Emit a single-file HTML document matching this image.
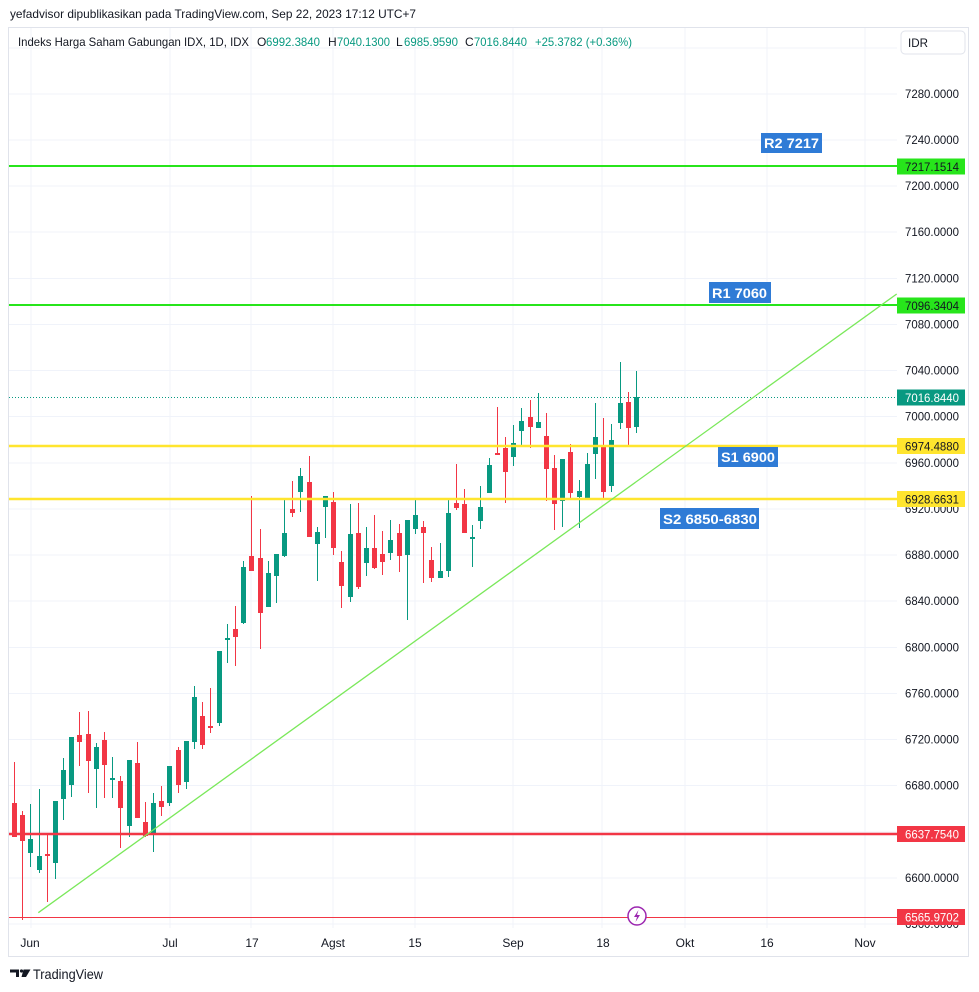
<!DOCTYPE html>
<html><head><meta charset="utf-8"><style>
html,body{margin:0;padding:0;background:#fff;}
svg{display:block;font-family:"Liberation Sans",Arial,sans-serif;}
</style></head><body>
<svg width="979" height="992" viewBox="0 0 979 992" xmlns="http://www.w3.org/2000/svg">
<defs>
<clipPath id="axisclip"><rect x="897" y="28" width="72" height="900"/></clipPath>
</defs>
<rect width="979" height="992" fill="#fff"/>
<!-- header -->
<text x="10" y="18" font-size="12" fill="#131722" textLength="406" lengthAdjust="spacingAndGlyphs">yefadvisor dipublikasikan pada TradingView.com, Sep 22, 2023 17:12 UTC+7</text>
<!-- frame -->
<rect x="8.5" y="27.5" width="960" height="929" fill="none" stroke="#e0e3eb" stroke-width="1"/>
<!-- horizontal grid -->
<g stroke="#f0f3fa" stroke-width="1">
<line x1="9" x2="897" y1="48" y2="48"/>
<line x1="9" x2="897" y1="94" y2="94"/>
<line x1="9" x2="897" y1="140" y2="140"/>
<line x1="9" x2="897" y1="186" y2="186"/>
<line x1="9" x2="897" y1="232" y2="232"/>
<line x1="9" x2="897" y1="278.5" y2="278.5"/>
<line x1="9" x2="897" y1="324.5" y2="324.5"/>
<line x1="9" x2="897" y1="370.5" y2="370.5"/>
<line x1="9" x2="897" y1="416.5" y2="416.5"/>
<line x1="9" x2="897" y1="463" y2="463"/>
<line x1="9" x2="897" y1="509" y2="509"/>
<line x1="9" x2="897" y1="555" y2="555"/>
<line x1="9" x2="897" y1="601" y2="601"/>
<line x1="9" x2="897" y1="647.5" y2="647.5"/>
<line x1="9" x2="897" y1="693.5" y2="693.5"/>
<line x1="9" x2="897" y1="739.5" y2="739.5"/>
<line x1="9" x2="897" y1="785.5" y2="785.5"/>
<line x1="9" x2="897" y1="832" y2="832"/>
<line x1="9" x2="897" y1="878" y2="878"/>
<line x1="9" x2="897" y1="924" y2="924"/>
</g>
<!-- vertical grid -->
<g stroke="#f0f3fa" stroke-width="1">
<line x1="31" x2="31" y1="28" y2="928"/>
<line x1="170" x2="170" y1="28" y2="928"/>
<line x1="251" x2="251" y1="28" y2="928"/>
<line x1="333" x2="333" y1="28" y2="928"/>
<line x1="415" x2="415" y1="28" y2="928"/>
<line x1="513" x2="513" y1="28" y2="928"/>
<line x1="602" x2="602" y1="28" y2="928"/>
<line x1="685" x2="685" y1="28" y2="928"/>
<line x1="767" x2="767" y1="28" y2="928"/>
<line x1="865" x2="865" y1="28" y2="928"/>
</g>
<!-- legend -->
<g font-size="12">
<text x="18" y="46" fill="#131722" textLength="231" lengthAdjust="spacingAndGlyphs">Indeks Harga Saham Gabungan IDX, 1D, IDX</text>
<text x="257" y="46" fill="#131722">O</text>
<text x="266" y="46" fill="#089981" textLength="54" lengthAdjust="spacingAndGlyphs">6992.3840</text>
<text x="328" y="46" fill="#131722">H</text>
<text x="337" y="46" fill="#089981" textLength="53" lengthAdjust="spacingAndGlyphs">7040.1300</text>
<text x="396" y="46" fill="#131722">L</text>
<text x="404" y="46" fill="#089981" textLength="54" lengthAdjust="spacingAndGlyphs">6985.9590</text>
<text x="465" y="46" fill="#131722">C</text>
<text x="474" y="46" fill="#089981" textLength="53" lengthAdjust="spacingAndGlyphs">7016.8440</text>
<text x="535" y="46" fill="#089981" textLength="97" lengthAdjust="spacingAndGlyphs">+25.3782 (+0.36%)</text>
</g>
<!-- IDR box -->
<rect x="901" y="31" width="64" height="23" rx="4" ry="4" fill="#fff" stroke="#e0e3eb"/>
<text x="908" y="47" font-size="12" fill="#131722" textLength="20" lengthAdjust="spacingAndGlyphs">IDR</text>

<!-- candles green -->
<g fill="#089981">
<rect x="30" y="804" width="1" height="63"/><rect x="28" y="839" width="5" height="14"/>
<rect x="39" y="789" width="1" height="84"/><rect x="37" y="856" width="5" height="14"/>
<rect x="55" y="801" width="1" height="78"/><rect x="53" y="801" width="5" height="62"/>
<rect x="63" y="758" width="1" height="62"/><rect x="61" y="770" width="5" height="29"/>
<rect x="71" y="737" width="1" height="60"/><rect x="69" y="737" width="5" height="48"/>
<rect x="96" y="743" width="1" height="65"/><rect x="94" y="747" width="5" height="22"/>
<rect x="112" y="757" width="1" height="41"/><rect x="110" y="778" width="5" height="2"/>
<rect x="129" y="760" width="1" height="77"/><rect x="127" y="760" width="5" height="66"/>
<rect x="153" y="793" width="1" height="59"/><rect x="151" y="803" width="5" height="30"/>
<rect x="169" y="766" width="1" height="40"/><rect x="167" y="766" width="5" height="37"/>
<rect x="186" y="741" width="1" height="48"/><rect x="184" y="741" width="5" height="41"/>
<rect x="194" y="686" width="1" height="63"/><rect x="192" y="697" width="5" height="45"/>
<rect x="219" y="651" width="1" height="75"/><rect x="217" y="651" width="5" height="72"/>
<rect x="227" y="624" width="1" height="39"/><rect x="225" y="638" width="5" height="2"/>
<rect x="243" y="561" width="1" height="63"/><rect x="241" y="567" width="5" height="56"/>
<rect x="268" y="561" width="1" height="46"/><rect x="266" y="573" width="5" height="34"/>
<rect x="276" y="554" width="1" height="49"/><rect x="274" y="554" width="5" height="22"/>
<rect x="284" y="498" width="1" height="59"/><rect x="282" y="533" width="5" height="23"/>
<rect x="300" y="468" width="1" height="44"/><rect x="298" y="476" width="5" height="16"/>
<rect x="317" y="527" width="1" height="54"/><rect x="315" y="532" width="5" height="12"/>
<rect x="325" y="496" width="1" height="42"/><rect x="323" y="496" width="5" height="11"/>
<rect x="350" y="504" width="1" height="98"/><rect x="348" y="534" width="5" height="63"/>
<rect x="366" y="527" width="1" height="49"/><rect x="364" y="548" width="5" height="15"/>
<rect x="390" y="520" width="1" height="40"/><rect x="388" y="540" width="5" height="13"/>
<rect x="407" y="520" width="1" height="100"/><rect x="405" y="520" width="5" height="35"/>
<rect x="415" y="499" width="1" height="35"/><rect x="413" y="515" width="5" height="14"/>
<rect x="440" y="543" width="1" height="35"/><rect x="438" y="571" width="5" height="7"/>
<rect x="448" y="500" width="1" height="77"/><rect x="446" y="513" width="5" height="58"/>
<rect x="472" y="525" width="1" height="42"/><rect x="470" y="537" width="5" height="2"/>
<rect x="480" y="486" width="1" height="43"/><rect x="478" y="507" width="5" height="14"/>
<rect x="489" y="458" width="1" height="35"/><rect x="487" y="465" width="5" height="28"/>
<rect x="513" y="425" width="1" height="41"/><rect x="511" y="443" width="5" height="14"/>
<rect x="521" y="408" width="1" height="38"/><rect x="519" y="421" width="5" height="10"/>
<rect x="538" y="393" width="1" height="35"/><rect x="536" y="422" width="5" height="6"/>
<rect x="562" y="459" width="1" height="68"/><rect x="560" y="459" width="5" height="42"/>
<rect x="579" y="480" width="1" height="48"/><rect x="577" y="491" width="5" height="6"/>
<rect x="587" y="453" width="1" height="46"/><rect x="585" y="464" width="5" height="35"/>
<rect x="595" y="403" width="1" height="76"/><rect x="593" y="437" width="5" height="17"/>
<rect x="611" y="424" width="1" height="68"/><rect x="609" y="440" width="5" height="46"/>
<rect x="620" y="362" width="1" height="67"/><rect x="618" y="403" width="5" height="20"/>
<rect x="636" y="371" width="1" height="62"/><rect x="634" y="397" width="5" height="30"/>
</g>
<!-- candles red -->
<g fill="#f23645">
<rect x="14" y="762" width="1" height="75"/><rect x="12" y="803" width="5" height="34"/>
<rect x="22" y="811" width="1" height="109"/><rect x="20" y="815" width="5" height="26"/>
<rect x="47" y="833" width="1" height="69"/><rect x="45" y="854" width="5" height="2"/>
<rect x="79" y="712" width="1" height="54"/><rect x="77" y="735" width="5" height="7"/>
<rect x="88" y="711" width="1" height="82"/><rect x="86" y="734" width="5" height="27"/>
<rect x="104" y="732" width="1" height="66"/><rect x="102" y="740" width="5" height="25"/>
<rect x="120" y="776" width="1" height="72"/><rect x="118" y="781" width="5" height="27"/>
<rect x="137" y="742" width="1" height="76"/><rect x="135" y="763" width="5" height="55"/>
<rect x="145" y="802" width="1" height="35"/><rect x="143" y="822" width="5" height="14"/>
<rect x="161" y="786" width="1" height="30"/><rect x="159" y="801" width="5" height="6"/>
<rect x="178" y="747" width="1" height="46"/><rect x="176" y="750" width="5" height="35"/>
<rect x="202" y="702" width="1" height="47"/><rect x="200" y="716" width="5" height="29"/>
<rect x="210" y="688" width="1" height="45"/><rect x="208" y="726" width="5" height="2"/>
<rect x="235" y="606" width="1" height="60"/><rect x="233" y="629" width="5" height="8"/>
<rect x="251" y="496" width="1" height="75"/><rect x="249" y="556" width="5" height="15"/>
<rect x="260" y="529" width="1" height="120"/><rect x="258" y="558" width="5" height="55"/>
<rect x="292" y="481" width="1" height="36"/><rect x="290" y="509" width="5" height="4"/>
<rect x="309" y="456" width="1" height="81"/><rect x="307" y="482" width="5" height="55"/>
<rect x="333" y="492" width="1" height="63"/><rect x="331" y="502" width="5" height="46"/>
<rect x="341" y="551" width="1" height="57"/><rect x="339" y="562" width="5" height="24"/>
<rect x="358" y="503" width="1" height="86"/><rect x="356" y="533" width="5" height="54"/>
<rect x="374" y="515" width="1" height="54"/><rect x="372" y="548" width="5" height="20"/>
<rect x="382" y="531" width="1" height="44"/><rect x="380" y="554" width="5" height="8"/>
<rect x="399" y="524" width="1" height="48"/><rect x="397" y="533" width="5" height="23"/>
<rect x="423" y="521" width="1" height="62"/><rect x="421" y="527" width="5" height="6"/>
<rect x="431" y="547" width="1" height="35"/><rect x="429" y="560" width="5" height="18"/>
<rect x="456" y="464" width="1" height="46"/><rect x="454" y="503" width="5" height="5"/>
<rect x="464" y="489" width="1" height="44"/><rect x="462" y="504" width="5" height="29"/>
<rect x="497" y="407" width="1" height="48"/><rect x="495" y="453" width="5" height="2"/>
<rect x="505" y="437" width="1" height="66"/><rect x="503" y="448" width="5" height="24"/>
<rect x="530" y="400" width="1" height="48"/><rect x="528" y="417" width="5" height="10"/>
<rect x="546" y="413" width="1" height="88"/><rect x="544" y="436" width="5" height="33"/>
<rect x="554" y="455" width="1" height="75"/><rect x="552" y="468" width="5" height="36"/>
<rect x="570" y="444" width="1" height="55"/><rect x="568" y="452" width="5" height="41"/>
<rect x="603" y="418" width="1" height="81"/><rect x="601" y="446" width="5" height="46"/>
<rect x="628" y="392" width="1" height="54"/><rect x="626" y="402" width="5" height="26"/>
</g>

<!-- drawings -->
<line x1="9" x2="897" y1="166" y2="166" stroke="#27e51b" stroke-width="2"/>
<line x1="9" x2="897" y1="305" y2="305" stroke="#27e51b" stroke-width="2"/>
<line x1="9" x2="897" y1="446" y2="446" stroke="#ffe52e" stroke-width="2.5"/>
<line x1="9" x2="897" y1="499" y2="499" stroke="#ffe52e" stroke-width="2.5"/>
<line x1="9" x2="897" y1="834" y2="834" stroke="#f23645" stroke-width="2.5"/>
<line x1="9" x2="897" y1="917.5" y2="917.5" stroke="#f23645" stroke-width="1"/>
<line x1="9" x2="897" y1="397.5" y2="397.5" stroke="#089981" stroke-width="1" stroke-dasharray="1 2"/>
<line x1="38.3" y1="912.7" x2="896.7" y2="294" stroke="#7ae85a" stroke-width="1.3"/>

<!-- text labels -->
<g font-size="14" font-weight="bold" fill="#fff">
<rect x="761" y="133" width="61" height="20" fill="#2f7bd6"/>
<text x="764" y="148" textLength="55" lengthAdjust="spacingAndGlyphs">R2 7217</text>
<rect x="709" y="282" width="62" height="21" fill="#2f7bd6"/>
<text x="712" y="298" textLength="55" lengthAdjust="spacingAndGlyphs">R1 7060</text>
<rect x="718" y="447" width="60" height="20" fill="#2f7bd6"/>
<text x="721" y="462" textLength="54" lengthAdjust="spacingAndGlyphs">S1 6900</text>
<rect x="660" y="508" width="99" height="21" fill="#2f7bd6"/>
<text x="663" y="524" textLength="94" lengthAdjust="spacingAndGlyphs">S2 6850-6830</text>
</g>

<!-- lightning icon -->
<circle cx="637" cy="916" r="9" fill="#fff" stroke="#9c27b0" stroke-width="1.5"/>
<path d="M638.5 910 L634 917 L637 917 L635.5 922 L640 915 L637 915 Z" fill="#9c27b0"/>

<!-- price axis labels -->
<g font-size="12" fill="#131722" clip-path="url(#axisclip)">
<text x="905" y="98" textLength="54" lengthAdjust="spacingAndGlyphs">7280.0000</text>
<text x="905" y="144" textLength="54" lengthAdjust="spacingAndGlyphs">7240.0000</text>
<text x="905" y="190" textLength="54" lengthAdjust="spacingAndGlyphs">7200.0000</text>
<text x="905" y="236" textLength="54" lengthAdjust="spacingAndGlyphs">7160.0000</text>
<text x="905" y="282.5" textLength="54" lengthAdjust="spacingAndGlyphs">7120.0000</text>
<text x="905" y="328.5" textLength="54" lengthAdjust="spacingAndGlyphs">7080.0000</text>
<text x="905" y="374.5" textLength="54" lengthAdjust="spacingAndGlyphs">7040.0000</text>
<text x="905" y="420.5" textLength="54" lengthAdjust="spacingAndGlyphs">7000.0000</text>
<text x="905" y="467" textLength="54" lengthAdjust="spacingAndGlyphs">6960.0000</text>
<text x="905" y="513" textLength="54" lengthAdjust="spacingAndGlyphs">6920.0000</text>
<text x="905" y="559" textLength="54" lengthAdjust="spacingAndGlyphs">6880.0000</text>
<text x="905" y="605" textLength="54" lengthAdjust="spacingAndGlyphs">6840.0000</text>
<text x="905" y="651.5" textLength="54" lengthAdjust="spacingAndGlyphs">6800.0000</text>
<text x="905" y="697.5" textLength="54" lengthAdjust="spacingAndGlyphs">6760.0000</text>
<text x="905" y="743.5" textLength="54" lengthAdjust="spacingAndGlyphs">6720.0000</text>
<text x="905" y="789.5" textLength="54" lengthAdjust="spacingAndGlyphs">6680.0000</text>
<text x="905" y="882" textLength="54" lengthAdjust="spacingAndGlyphs">6600.0000</text>
<text x="905" y="928" textLength="54" lengthAdjust="spacingAndGlyphs">6560.0000</text>
</g>
<!-- price boxes -->
<g font-size="12">
<rect x="897" y="158.5" width="68" height="16" fill="#27e51b"/>
<text x="905" y="171" fill="#131722" textLength="54" lengthAdjust="spacingAndGlyphs">7217.1514</text>
<rect x="897" y="297.5" width="68" height="16" fill="#27e51b"/>
<text x="905" y="310" fill="#131722" textLength="54" lengthAdjust="spacingAndGlyphs">7096.3404</text>
<rect x="897" y="389.5" width="68" height="16" fill="#089981"/>
<text x="905" y="402" fill="#fff" textLength="54" lengthAdjust="spacingAndGlyphs">7016.8440</text>
<rect x="897" y="438" width="68" height="16" fill="#ffe52e"/>
<text x="905" y="450.5" fill="#131722" textLength="54" lengthAdjust="spacingAndGlyphs">6974.4880</text>
<rect x="897" y="491" width="68" height="16" fill="#ffe52e"/>
<text x="905" y="503.5" fill="#131722" textLength="54" lengthAdjust="spacingAndGlyphs">6928.6631</text>
<rect x="897" y="826" width="68" height="16" fill="#f23645"/>
<text x="905" y="838.5" fill="#fff" textLength="54" lengthAdjust="spacingAndGlyphs">6637.7540</text>
<rect x="897" y="909" width="68" height="16" fill="#f23645"/>
<text x="905" y="921.5" fill="#fff" textLength="54" lengthAdjust="spacingAndGlyphs">6565.9702</text>
</g>

<!-- time axis -->
<g font-size="12" fill="#131722" text-anchor="middle">
<text x="30" y="947">Jun</text>
<text x="170" y="947">Jul</text>
<text x="252" y="947">17</text>
<text x="333" y="947">Agst</text>
<text x="415" y="947">15</text>
<text x="513" y="947">Sep</text>
<text x="603" y="947">18</text>
<text x="685" y="947">Okt</text>
<text x="767" y="947">16</text>
<text x="865" y="947">Nov</text>
</g>

<!-- footer logo -->
<g fill="#131722">
<path d="M10 969.5 H19 V977 H16 V972.5 H10 Z"/>
<circle cx="21.5" cy="971" r="1.6"/>
<path d="M23.5 969.5 H30.5 L26 977 H21.5 Z"/>
</g>
<text x="33" y="979" font-size="14" fill="#131722" textLength="70" lengthAdjust="spacingAndGlyphs">TradingView</text>
</svg>
</body></html>
